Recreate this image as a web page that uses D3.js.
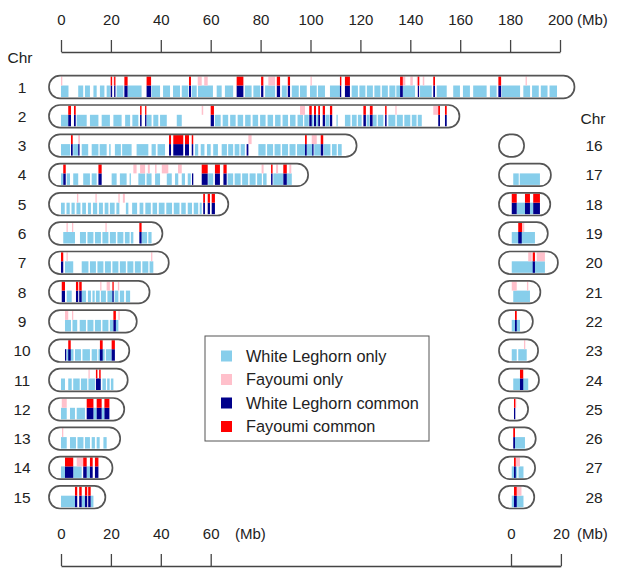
<!DOCTYPE html>
<html><head><meta charset="utf-8">
<script src="https://cdn.jsdelivr.net/npm/d3@7"></script>
<style>body{margin:0;background:#fff} text{font-family:"Liberation Sans",Arial,sans-serif;fill:#222}</style>
</head><body><svg id="c" width="617" height="572"></svg>
<script>
// ---------------- DATA ----------------
const chromosomes = ["1","2","3","4","5","6","7","8","9","10","11","12","13","14","15","16","17","18","19","20","21","22","23","24","25","26","27","28"];
const chrLengths = [200.99,154.87,113.66,94.23,62.24,35.84,38.38,30.67,25.55,22.56,21.93,20.54,18.91,15.82,12.97,0.43,11.18,10.93,9.94,13.99,6.96,3.94,6.04,6.40,2.03,5.10,4.84,4.51];
const topTicks = [0,20,40,60,80,100,120,140,160,180,200];
const bottomLeftTicks = [0,20,40,60];
const bottomRightTicks = [0,20];
const legendLabels = ["White Leghorn only","Fayoumi only","White Leghorn common","Fayoumi common"];

// [chr, start Mb, end Mb]
const wlOnly = [
[1,0,3],[1,6.9,8.9],[1,9.6,11.6],[1,13,14.3],[1,15.6,17.4],[1,18.3,19.6],[1,22.3,25],[1,26.8,32.3],[1,36.3,39.7],[1,40.9,43.7],[1,44.9,47.7],[1,48.4,51],[1,52.4,54.4],[1,54.9,60.9],[1,62.4,64.4],[1,65.7,69],[1,73.7,76.4],[1,77.1,79.8],[1,81.8,85.8],[1,88.5,90.5],[1,92.5,95.3],[1,95.8,98.5],[1,99.8,102.5],[1,103,105.8],[1,107.8,111.8],[1,116.5,119],[1,119.6,122],[1,122.6,125],[1,125.6,128],[1,128.6,131],[1,131.6,134],[1,134.4,135.9],[1,137,141.9],[1,143.9,148.6],[1,150.6,154.6],[1,157.2,159.9],[1,161.1,163.9],[1,165.2,170.6],[1,171.9,174.6],[1,176.6,184],[1,185.3,188],[1,188.8,191.5],[1,192.3,195],[1,195.8,198.8],
[2,0,2.9],[2,6.3,10.3],[2,11.6,15],[2,16.3,19.6],[2,21,24.3],[2,25.7,27.7],[2,28.6,31],[2,34.3,36.3],[2,37,39],[2,39.7,42.4],[2,46.4,48.4],[2,61.7,64],[2,64.8,67],[2,67.8,70],[2,70.8,73],[2,73.8,76],[2,76.8,79],[2,79.8,82],[2,82.8,85],[2,85.8,88],[2,88.8,91],[2,91.8,94],[2,94.8,97],[2,97.5,99.3],[2,100.5,101.2],[2,102.3,103],[2,106,107.6],[2,110.4,110.9],[2,113.8,116],[2,116.6,118.5],[2,119,120.5],[2,122.5,123.6],[2,125,126.5],[2,127,129.2],[2,131.2,134],[2,134.6,137],[2,137.6,140],[2,140.6,142.5],[2,143,144.6],
[3,0,3.6],[3,4.9,6.9],[3,8.3,10.9],[3,12.3,15],[3,15.5,18.3],[3,19.3,19.9],[3,21.6,24],[3,24.5,28.3],[3,30.3,35],[3,36.3,38],[3,38.7,41.7],[3,53.7,55],[3,56,57.5],[3,58.5,60],[3,61,62.9],[3,64.4,66.5],[3,67,69],[3,69.6,71.5],[3,72,73.7],[3,79.1,82],[3,82.6,85],[3,85.6,88],[3,88.6,91],[3,91.6,94],[3,94.6,97.8],[3,98.6,101],[3,101.5,104],[3,105.3,108],[3,108.6,110.5],[3,111,112.5],
[4,0,0.8],[4,2.3,3.6],[4,4.9,6.9],[4,8.9,11.6],[4,12.3,14.3],[4,20.3,22.3],[4,23.6,26.3],[4,27.5,28],[4,31,33.7],[4,34.3,36.3],[4,37.7,39.7],[4,42.4,44.4],[4,45.7,47],[4,48.4,49.7],[4,50.8,52],[4,59,61],[4,66.8,69],[4,69.6,72],[4,72.6,75],[4,75.6,78],[4,78.6,80.5],[4,81,82.4],[4,85.1,89],[4,90.5,92.5],
[5,0,1.5],[5,2.2,3.5],[5,4.2,5.5],[5,6.2,7.8],[5,8.5,10],[5,10.8,12],[5,12.8,14.5],[5,15.2,16.8],[5,17.5,19],[5,19.6,21.5],[5,22.2,23.4],[5,26,27],[5,28.5,30.5],[5,31.5,33],[5,33.8,36],[5,36.7,38.5],[5,39.2,41.5],[5,42.2,44.5],[5,45.2,47.5],[5,48.2,50],[5,50.8,52.5],[5,53.2,55],[5,55.6,56.4],
[6,0.9,5.6],[6,7.6,10],[6,10.6,13],[6,13.6,16],[6,16.6,19],[6,19.6,22],[6,22.6,25],[6,25.6,27.5],[6,28,29],[6,32.3,34.5],[6,35,36.3],
[7,1.6,4.9],[7,8.3,11],[7,11.6,14],[7,14.6,17],[7,17.6,20],[7,20.6,23],[7,23.6,26],[7,26.6,29],[7,29.6,32],[7,32.6,35],[7,35.5,37],
[8,2.3,4.3],[8,8.3,10],[8,10.8,12],[8,12.6,13.5],[8,14,15.5],[8,16,18],[8,18.6,21],[8,21.5,23],[8,23.6,25.3],[8,26,27.7],
[9,1.6,4],[9,4.6,6.5],[9,7.5,10],[9,10.6,13],[9,13.6,16],[9,16.6,19],[9,19.6,21],[9,22,23],
[10,2.3,5],[10,5.6,8],[10,8.6,11.6],[10,12.3,14.5],[10,15,17.5],[10,18,20.3],
[11,0,1.6],[11,2.9,4.3],[11,4.9,7.5],[11,8,10.5],[11,11,13.6],[11,14.3,16],[11,16.6,18],[11,18.5,19.5],[11,20,21],
[12,0,2.3],[12,3.6,5.6],[12,6.3,9.6],[12,13,14.3],[12,16.3,17.4],
[13,0,2.3],[13,3.6,6],[13,6.6,9],[13,9.6,11.6],[13,12.3,13.6],[13,14.3,15.5],[13,17,18.3],
[14,0,1.6],[14,4.9,8.3],[14,10.3,11.6],
[15,0,5.6],[15,8.3,9.6],[15,11.9,13],
[17,0.9,3.1],[17,3.5,11.6],[18,2.3,5.6],[18,7.6,8.9],[19,0.3,9.6],[20,0.3,13.6],[21,0.9,7.6],[22,0.3,3.6],
[23,0.3,2.3],[23,2.9,6.3],[24,0.9,6.9],[26,1.6,5.6],[27,0.3,2.5],[27,3,5],[28,0.3,5]
];
const fyOnly = [
[1,0,0.5],[1,21,21.5],[1,54.8,56.4],[1,57.4,58.8],[1,83.1,85.8],[1,100,100.5],[1,112,112.5],[1,137,138],[1,140,141],[1,142.6,143.9],[1,145,145.6],[1,186.2,186.7],
[2,56.4,57],[2,95.8,97.8],[2,134,134.5],[2,149.2,151.9],
[3,6.9,7.6],[3,75.1,76.4],[3,100.5,102.5],
[4,29,30.3],[4,31.7,33.7],[4,34.8,35.6],[4,37.7,38.3],[4,40.4,43],[4,46.9,48.4],[4,80.4,81.2],[4,86.2,87],[4,91.5,92.3],
[5,6.4,6.8],[5,13.8,14.2],[5,23,23.4],[5,24.8,25.6],
[6,2.2,2.6],[6,4.4,4.8],[6,17.8,18.2],[7,2.2,2.6],[7,36.1,36.5],
[8,15.7,16.1],[8,18.3,19.6],[8,22.8,23.2],[9,1.6,2.9],[9,4.4,4.8],[9,23,23.4],
[11,11,11.4],[12,0.3,2.3],[13,0.4,0.8],[14,6.3,8.9],
[19,4.8,5.2],[20,6.9,8.3],[20,10.3,13.6],[21,0.3,2.3],[21,6.4,6.8],[23,5.2,5.6],[25,1.6,2.0],[27,1.9,3.6],[28,2.3,4.2]
];
const wlCommon = [
[1,19.9,20.5],[1,21.3,21.8],[1,25.4,26.7],[1,34.3,36.1],[1,51.3,52.1],[1,70.4,73.1],[1,80.2,81.1],[1,86.5,87.8],[1,90.9,91.8],[1,111.8,112.3],[1,113.8,115.8],[1,135.9,137],[1,143,143.5],[1,149.2,149.9],[1,175.3,176.4],
[2,2.9,4],[2,5.2,5.9],[2,31.7,32.3],[2,33.7,34.1],[2,60,61.3],[2,99.5,100.5],[2,101.4,102.2],[2,103.1,103.8],[2,104.9,105.8],[2,107.8,108.7],[2,121.2,122.2],[2,123.8,124.9],[2,129.9,130.5],[2,151.2,151.9],[2,153.9,154.6],
[3,4,4.7],[3,6.9,7.4],[3,43.3,44.1],[3,45,49],[3,49.7,51.3],[3,52.4,53],[3,74.4,75.1],[3,97.8,98.5],[3,100.7,101.1],[3,104.1,105.1],
[4,0.9,1.9],[4,15,16.3],[4,52.5,53],[4,56.4,58.8],[4,61.7,63.7],[4,65.1,66.4],[4,84.2,84.8],[4,89.1,90.5],
[5,57,57.7],[5,58.8,59.7],[5,60.4,61.7],[6,31.4,32.3],[7,0,0.9],
[8,0.3,1.6],[8,6,6.9],[8,7.3,8.3],[8,20.6,21],[9,21,22],
[10,1.6,2.1],[10,2.9,3.9],[10,15.6,16.7],[10,20.3,21.6],[11,14,15.9],
[12,10.3,13],[12,14.3,16.3],[12,17.4,19.4],
[14,1.6,4.9],[14,8.9,10.3],[14,11.6,12.7],[14,13.6,15],
[15,5.6,6.5],[15,7.3,8.3],[15,9.6,10.5],[15,10.9,11.9],
[18,0.3,2.3],[18,5.6,7.6],[18,8.9,11.6],[19,2.9,4.3],[20,8.7,9.6],[22,1.6,2.3],[24,3.6,4.9],[25,1.2,1.7],[26,0.9,1.6],[27,1.2,1.9],[28,1.2,2.3]
];
const fyCommon = [
[1,19.9,20.5],[1,21.3,21.8],[1,25.4,26.7],[1,34.3,36.1],[1,51.3,52.1],[1,70.4,73.1],[1,80.2,81.1],[1,86.5,87.8],[1,90.9,91.8],[1,111.8,112.3],[1,113.8,115.8],[1,135.9,137],[1,143,143.5],[1,149.2,149.9],[1,175.3,176.4],
[2,2.9,4],[2,5.2,5.9],[2,31.7,32.3],[2,33.7,34.1],[2,60,61.3],[2,99.5,100.5],[2,101.4,102.2],[2,103.1,103.8],[2,104.9,105.8],[2,107.8,108.7],[2,121.2,122.2],[2,123.8,124.9],[2,129.9,130.5],[2,151.2,151.9],[2,153.9,154.6],
[3,4,4.7],[3,43.3,44.1],[3,45,49],[3,49.7,51.3],[3,52.4,53],[3,97.8,98.5],[3,104.1,105.1],
[4,0.9,1.9],[4,15,16.3],[4,56.4,58.8],[4,61.7,63.7],[4,65.1,66.4],[4,84.2,84.8],[4,89.1,90.5],
[5,57,57.7],[5,58.8,59.7],[5,60.4,61.7],[6,31.4,32.3],[7,0,0.9],
[8,0.3,1.6],[8,6,6.9],[8,7.3,8.3],[8,20.6,21],[9,21,22],
[10,2.9,3.9],[10,15.6,16.7],[10,20.3,21.6],[11,14,14.6],[11,15.3,15.9],
[12,10.3,13],[12,14.3,16.3],[12,17.4,19.4],
[14,1.6,4.9],[14,8.9,10.3],[14,11.6,12.7],[14,13.6,15],
[15,5.6,6.5],[15,7.3,8.3],[15,9.6,10.5],[15,10.9,11.9],
[18,0.3,2.3],[18,5.6,7.6],[18,8.9,11.6],[19,2.9,4.5],[20,8.7,9.6],[22,1.6,2.3],[24,3.6,4.9],[25,1.2,1.7],[26,0.9,1.6],[27,1.2,1.9],[28,1.2,2.3]
];

// ---------------- DRAW ----------------
const svg = d3.select("#c");
const xLeft = d3.scaleLinear().domain([0,200]).range([61,560]);
const xRight = d3.scaleLinear().domain([0,20]).range([511,560.9]);
const rowY = d3.scaleLinear().domain([1,15]).range([87,497.2]);
const isLeft = c => c <= 15;
const xOf = c => isLeft(c) ? xLeft : xRight;
const yOf = c => isLeft(c) ? rowY(c) : rowY(c - 13);
const colors = {wlOnly:"#87CEEB", fyOnly:"#FFC0CB", wlCommon:"#00008B", fyCommon:"#FF0000"};

const series = [
  {data: wlOnly, color: colors.wlOnly, top: -1.5, bot: 10},
  {data: fyOnly, color: colors.fyOnly, top: -10.5, bot: -1.5},
  {data: wlCommon, color: colors.wlCommon, top: -1.5, bot: 10},
  {data: fyCommon, color: colors.fyCommon, top: -10.5, bot: -1.5}
];
series.forEach(s => {
  svg.append("g").selectAll("rect").data(s.data).join("rect")
    .attr("x", d => xOf(d[0])(d[1]))
    .attr("width", d => Math.max(1.3, xOf(d[0])(d[2]) - xOf(d[0])(d[1])))
    .attr("y", d => yOf(d[0]) + s.top)
    .attr("height", s.bot - s.top)
    .attr("fill", s.color);
});

// chromosome outlines
const chrData = chromosomes.map((c,i) => ({num: +c, label: c, len: chrLengths[i]}));
svg.append("g").selectAll("rect").data(chrData).join("rect")
  .attr("x", d => xOf(d.num)(0) - 12)
  .attr("width", d => xOf(d.num)(d.len) - xOf(d.num)(0) + 24)
  .attr("y", d => yOf(d.num) - 11.3)
  .attr("height", 22.6)
  .attr("rx", 11).attr("ry", 11)
  .attr("fill", "none").attr("stroke", "#555").attr("stroke-width", 1.7);

// chromosome labels
svg.append("g").selectAll("text").data(chrData).join("text")
  .attr("x", d => isLeft(d.num) ? 22 : 594)
  .attr("y", d => yOf(d.num) + 5.5)
  .attr("text-anchor", "middle").attr("font-size", 15.5)
  .text(d => d.label);
svg.append("text").attr("x", 20).attr("y", 63).attr("text-anchor","middle").attr("font-size",15.5).text("Chr");
svg.append("text").attr("x", 593).attr("y", 124).attr("text-anchor","middle").attr("font-size",15.5).text("Chr");

// axes
function drawAxis(scale, ticks, y, mbX) {
  const g = svg.append("g").attr("transform", `translate(0,${y})`)
    .call(d3.axisTop(scale).tickValues(ticks).tickSize(12).tickSizeOuter(0).tickPadding(15).tickFormat(d3.format("d")));
  g.select(".domain").attr("stroke", "#444").attr("stroke-width", 1.3);
  g.selectAll(".tick line").attr("stroke", "#444").attr("stroke-width", 1.3);
  g.selectAll(".tick text").attr("font-size", 15).attr("font-family", "Liberation Sans, Arial, sans-serif").attr("fill", "#222");
  g.append("text").attr("x", mbX).attr("y", -27).attr("text-anchor","start")
    .attr("font-size",15).attr("font-family", "Liberation Sans, Arial, sans-serif").attr("fill","#222").text("(Mb)");
}
drawAxis(xLeft, topTicks, 52, 577);
drawAxis(xLeft, bottomLeftTicks, 566, 235);
drawAxis(xRight, bottomRightTicks, 566, 577);

// legend
const lg = svg.append("g");
lg.append("rect").attr("x", 205).attr("y", 336).attr("width", 224).attr("height", 105)
  .attr("fill", "#fff").attr("stroke", "#555").attr("stroke-width", 1);
const legColors = [colors.wlOnly, colors.fyOnly, colors.wlCommon, colors.fyCommon];
const ly = d3.scaleLinear().domain([0,3]).range([356, 426.5]);
lg.selectAll("rect.k").data(legendLabels).join("rect").attr("class","k")
  .attr("x", 221).attr("y", (d,i) => ly(i) - 5.5).attr("width", 11).attr("height", 11)
  .attr("fill", (d,i) => legColors[i]);
lg.selectAll("text").data(legendLabels).join("text")
  .attr("x", 246).attr("y", (d,i) => ly(i) + 5.5).attr("font-size", 16.3)
  .text(d => d);
</script></body></html>
